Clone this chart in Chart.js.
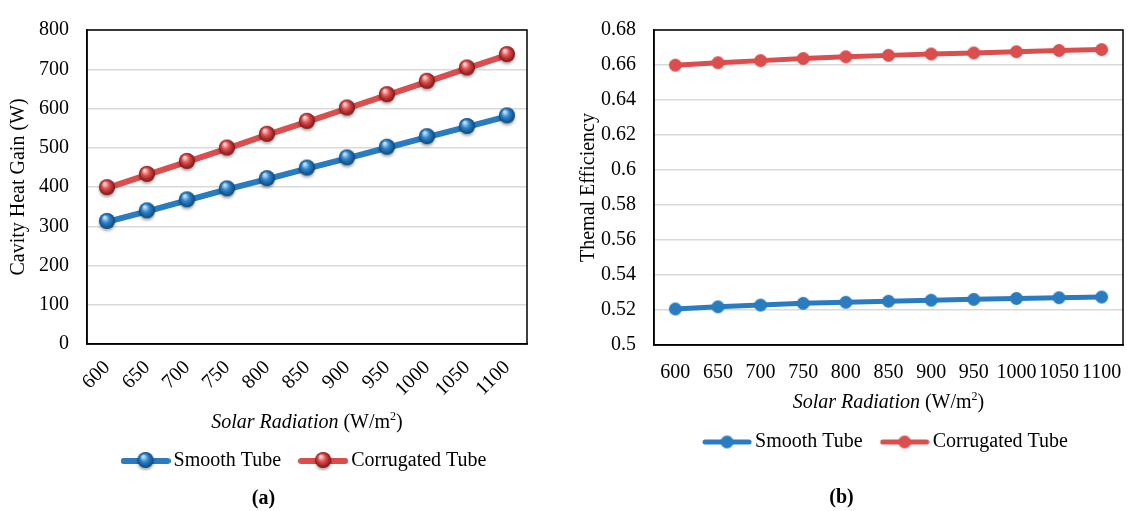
<!DOCTYPE html>
<html>
<head>
<meta charset="utf-8">
<script src="https://cdn.jsdelivr.net/npm/chart.js@4"></script>
<style>
    body { margin: 0; background: #fff; overflow: hidden; }
    #wrap { position: relative; width: 1128px; height: 511px; overflow: hidden; }
    #heatChart { position: absolute; left: 0; top: 0; }
    #effChart { position: absolute; left: 560px; top: 0; }
</style>
</head>
<body>
<div id="wrap">
    <canvas id="heatChart" width="560" height="511"></canvas>
    <canvas id="effChart" width="576" height="511"></canvas>
</div>
<script>
'use strict';

const radiation = ['600', '650', '700', '750', '800', '850', '900', '950', '1000', '1050', '1100'];

const heatSmooth = [311, 338, 366, 394, 420, 447, 473, 500, 527, 553, 580];
const heatCorrugated = [397, 431, 464, 498, 533, 566, 600, 634, 668, 702, 736];
const heatTicks = [0, 100, 200, 300, 400, 500, 600, 700, 800];

const effSmooth = [0.5206, 0.5218, 0.5228, 0.5238, 0.5244, 0.5250, 0.5256, 0.5261, 0.5266, 0.5270, 0.5274];
const effCorrugated = [0.6599, 0.6613, 0.6625, 0.6637, 0.6647, 0.6655, 0.6663, 0.6669, 0.6676, 0.6683, 0.6688];
const effTicks = [0.5, 0.52, 0.54, 0.56, 0.58, 0.6, 0.62, 0.64, 0.66, 0.68];

const blue = '#2a7cc1';
const red = '#dc4d4d';

Chart.defaults.font.family = "'Liberation Serif', 'Times New Roman', serif";
Chart.defaults.font.size = 20;
Chart.defaults.color = '#000';

function makeSphere(radius, light, mid, dark) {
    let size = Math.ceil(radius * 2 + 8);
    let c = document.createElement('canvas');
    c.width = size;
    c.height = size;
    let ctx = c.getContext('2d');
    let cx = size / 2;
    let cy = size / 2 - 1;
    ctx.shadowColor = 'rgba(0,0,0,0.35)';
    ctx.shadowBlur = 3;
    ctx.shadowOffsetY = 2;
    let g = ctx.createRadialGradient(cx - radius * 0.3, cy - radius * 0.45, radius * 0.1, cx, cy, radius);
    g.addColorStop(0, light);
    g.addColorStop(0.45, mid);
    g.addColorStop(1, dark);
    ctx.fillStyle = g;
    ctx.beginPath();
    ctx.arc(cx, cy, radius, 0, Math.PI * 2);
    ctx.fill();
    return c;
}

function makeDot(radius, color) {
    let size = Math.ceil(radius * 2 + 2);
    let c = document.createElement('canvas');
    c.width = size;
    c.height = size;
    let ctx = c.getContext('2d');
    ctx.fillStyle = color;
    ctx.beginPath();
    ctx.arc(size / 2, size / 2, radius, 0, Math.PI * 2);
    ctx.fill();
    return c;
}

function makeLegendIcon(color, lineWidth, marker) {
    let c = document.createElement('canvas');
    c.width = 50;
    c.height = 20;
    let ctx = c.getContext('2d');
    ctx.strokeStyle = color;
    ctx.lineWidth = lineWidth;
    ctx.lineCap = 'round';
    ctx.beginPath();
    ctx.moveTo(3, 10);
    ctx.lineTo(47, 10);
    ctx.stroke();
    ctx.drawImage(marker, 25 - marker.width / 2, 10 - marker.height / 2);
    return c;
}

// black box round the plot area
const frame = {
    id: 'frame',
    beforeDatasetsDraw(chart) {
        let a = chart.chartArea;
        let ctx = chart.ctx;
        ctx.save();
        ctx.strokeStyle = '#000';
        ctx.lineWidth = 1.5;
        ctx.strokeRect(a.left, a.top, a.right - a.left, a.bottom - a.top);
        ctx.restore();
    }
};

// x axis title with italic and superscript parts
const xCaption = {
    id: 'xCaption',
    afterDraw(chart, args, opts) {
        let ctx = chart.ctx;
        let a = chart.chartArea;
        let y = chart.scales.x.bottom - opts.offset;
        let size = 20;
        let parts = [
            {text: 'Solar Radiation', font: 'italic ' + size + 'px ' + Chart.defaults.font.family, dy: 0},
            {text: ' (W/m', font: size + 'px ' + Chart.defaults.font.family, dy: 0},
            {text: '2', font: Math.round(size * 0.62) + 'px ' + Chart.defaults.font.family, dy: -6},
            {text: ')', font: size + 'px ' + Chart.defaults.font.family, dy: 0}
        ];
        ctx.save();
        ctx.fillStyle = '#000';
        ctx.textBaseline = 'middle';
        let total = 0;
        for (let p of parts) {
            ctx.font = p.font;
            p.width = ctx.measureText(p.text).width;
            total += p.width;
        }
        let x = (a.left + a.right) / 2 - total / 2;
        for (let p of parts) {
            ctx.font = p.font;
            ctx.fillText(p.text, x, y + p.dy);
            x += p.width;
        }
        ctx.restore();
    }
};

function legendLabels(icons) {
    return function (chart) {
        return chart.data.datasets.map((ds, i) => ({
            text: ds.label,
            pointStyle: icons[i],
            fillStyle: ds.borderColor,
            strokeStyle: ds.borderColor,
            lineWidth: 0,
            datasetIndex: i,
            fontColor: '#000'
        }));
    };
}

function createHeatChart() {
    let blueSphere = makeSphere(8, '#bfe3ff', '#2b83cc', '#0f4677');
    let redSphere = makeSphere(8, '#ffd0d0', '#dd4a4a', '#7c1515');
    let icons = [makeLegendIcon(blue, 6, blueSphere), makeLegendIcon(red, 6, redSphere)];

    let ctx = document.getElementById('heatChart').getContext('2d');
    new Chart(ctx, {
        type: 'line',
        data: {
            labels: radiation,
            datasets: [{
                label: 'Smooth Tube',
                data: heatSmooth,
                borderColor: blue,
                backgroundColor: blue,
                borderWidth: 6,
                pointStyle: blueSphere
            }, {
                label: 'Corrugated Tube',
                data: heatCorrugated,
                borderColor: red,
                backgroundColor: red,
                borderWidth: 6,
                pointStyle: redSphere
            }]
        },
        options: {
            responsive: false,
            animation: false,
            layout: {padding: {left: 0, right: 33, top: 22, bottom: 0}},
            scales: {
                x: {
                    offset: true,
                    grid: {display: false, offset: true},
                    border: {color: '#000', width: 1.5},
                    ticks: {minRotation: 45, maxRotation: 45, autoSkip: false, padding: 4},
                    afterFit: axis => {
                        axis.height = 83;
                        axis.paddingLeft = 0;
                        axis.paddingRight = 0;
                    }
                },
                y: {
                    min: heatTicks[0],
                    max: heatTicks[heatTicks.length - 1],
                    afterBuildTicks: axis => { axis.ticks = heatTicks.map(v => ({value: v})); },
                    grid: {color: '#d9d9d9', lineWidth: 1.5, drawTicks: false},
                    border: {color: '#000', width: 1.5},
                    ticks: {padding: 18},
                    title: {display: true, text: 'Cavity Heat Gain (W)', padding: {top: 7, bottom: 0}},
                    afterFit: axis => { axis.width = 87; }
                }
            },
            plugins: {
                legend: {
                    position: 'bottom',
                    fullSize: false,
                    labels: {
                        usePointStyle: true,
                        pointStyleWidth: 36,
                        padding: 24,
                        generateLabels: legendLabels(icons)
                    }
                },
                title: {
                    display: true,
                    position: 'bottom',
                    text: '(a)',
                    font: {weight: 'bold', size: 20},
                    padding: {top: 6, bottom: 0}
                },
                tooltip: {enabled: false},
                xCaption: {offset: 4}
            }
        },
        plugins: [frame, xCaption]
    });
}

function createEffChart() {
    let blueDot = makeDot(6.5, blue);
    let redDot = makeDot(6.5, red);
    let icons = [makeLegendIcon(blue, 5, blueDot), makeLegendIcon(red, 5, redDot)];

    let ctx = document.getElementById('effChart').getContext('2d');
    new Chart(ctx, {
        type: 'line',
        data: {
            labels: radiation,
            datasets: [{
                label: 'Smooth Tube',
                data: effSmooth,
                borderColor: blue,
                backgroundColor: blue,
                borderWidth: 5,
                pointStyle: blueDot
            }, {
                label: 'Corrugated Tube',
                data: effCorrugated,
                borderColor: red,
                backgroundColor: red,
                borderWidth: 5,
                pointStyle: redDot
            }]
        },
        options: {
            responsive: false,
            animation: false,
            layout: {padding: {left: 0, right: 13, top: 28, bottom: 0}},
            scales: {
                x: {
                    offset: true,
                    grid: {display: false, offset: true, drawTicks: false},
                    border: {color: '#000', width: 1.5},
                    ticks: {minRotation: 0, maxRotation: 0, autoSkip: false, padding: 16},
                    afterFit: axis => {
                        axis.height = 63;
                        axis.paddingLeft = 0;
                        axis.paddingRight = 0;
                    }
                },
                y: {
                    min: effTicks[0],
                    max: effTicks[effTicks.length - 1],
                    afterBuildTicks: axis => { axis.ticks = effTicks.map(v => ({value: v})); },
                    grid: {color: '#d9d9d9', lineWidth: 1.5, drawTicks: false},
                    border: {color: '#000', width: 1.5},
                    ticks: {
                        padding: 18,
                        callback: v => String(+v.toFixed(2))
                    },
                    title: {display: true, text: 'Themal Efficiency', padding: {top: 17, bottom: 0}},
                    afterFit: axis => { axis.width = 94; }
                }
            },
            plugins: {
                legend: {
                    position: 'bottom',
                    fullSize: false,
                    labels: {
                        usePointStyle: true,
                        pointStyleWidth: 36,
                        padding: 24,
                        generateLabels: legendLabels(icons)
                    }
                },
                title: {
                    display: true,
                    position: 'bottom',
                    text: '(b)',
                    font: {weight: 'bold', size: 20},
                    padding: {top: 24, bottom: 1}
                },
                tooltip: {enabled: false},
                xCaption: {offset: 5}
            }
        },
        plugins: [frame, xCaption]
    });
}

createHeatChart();
createEffChart();
</script>
</body>
</html>
